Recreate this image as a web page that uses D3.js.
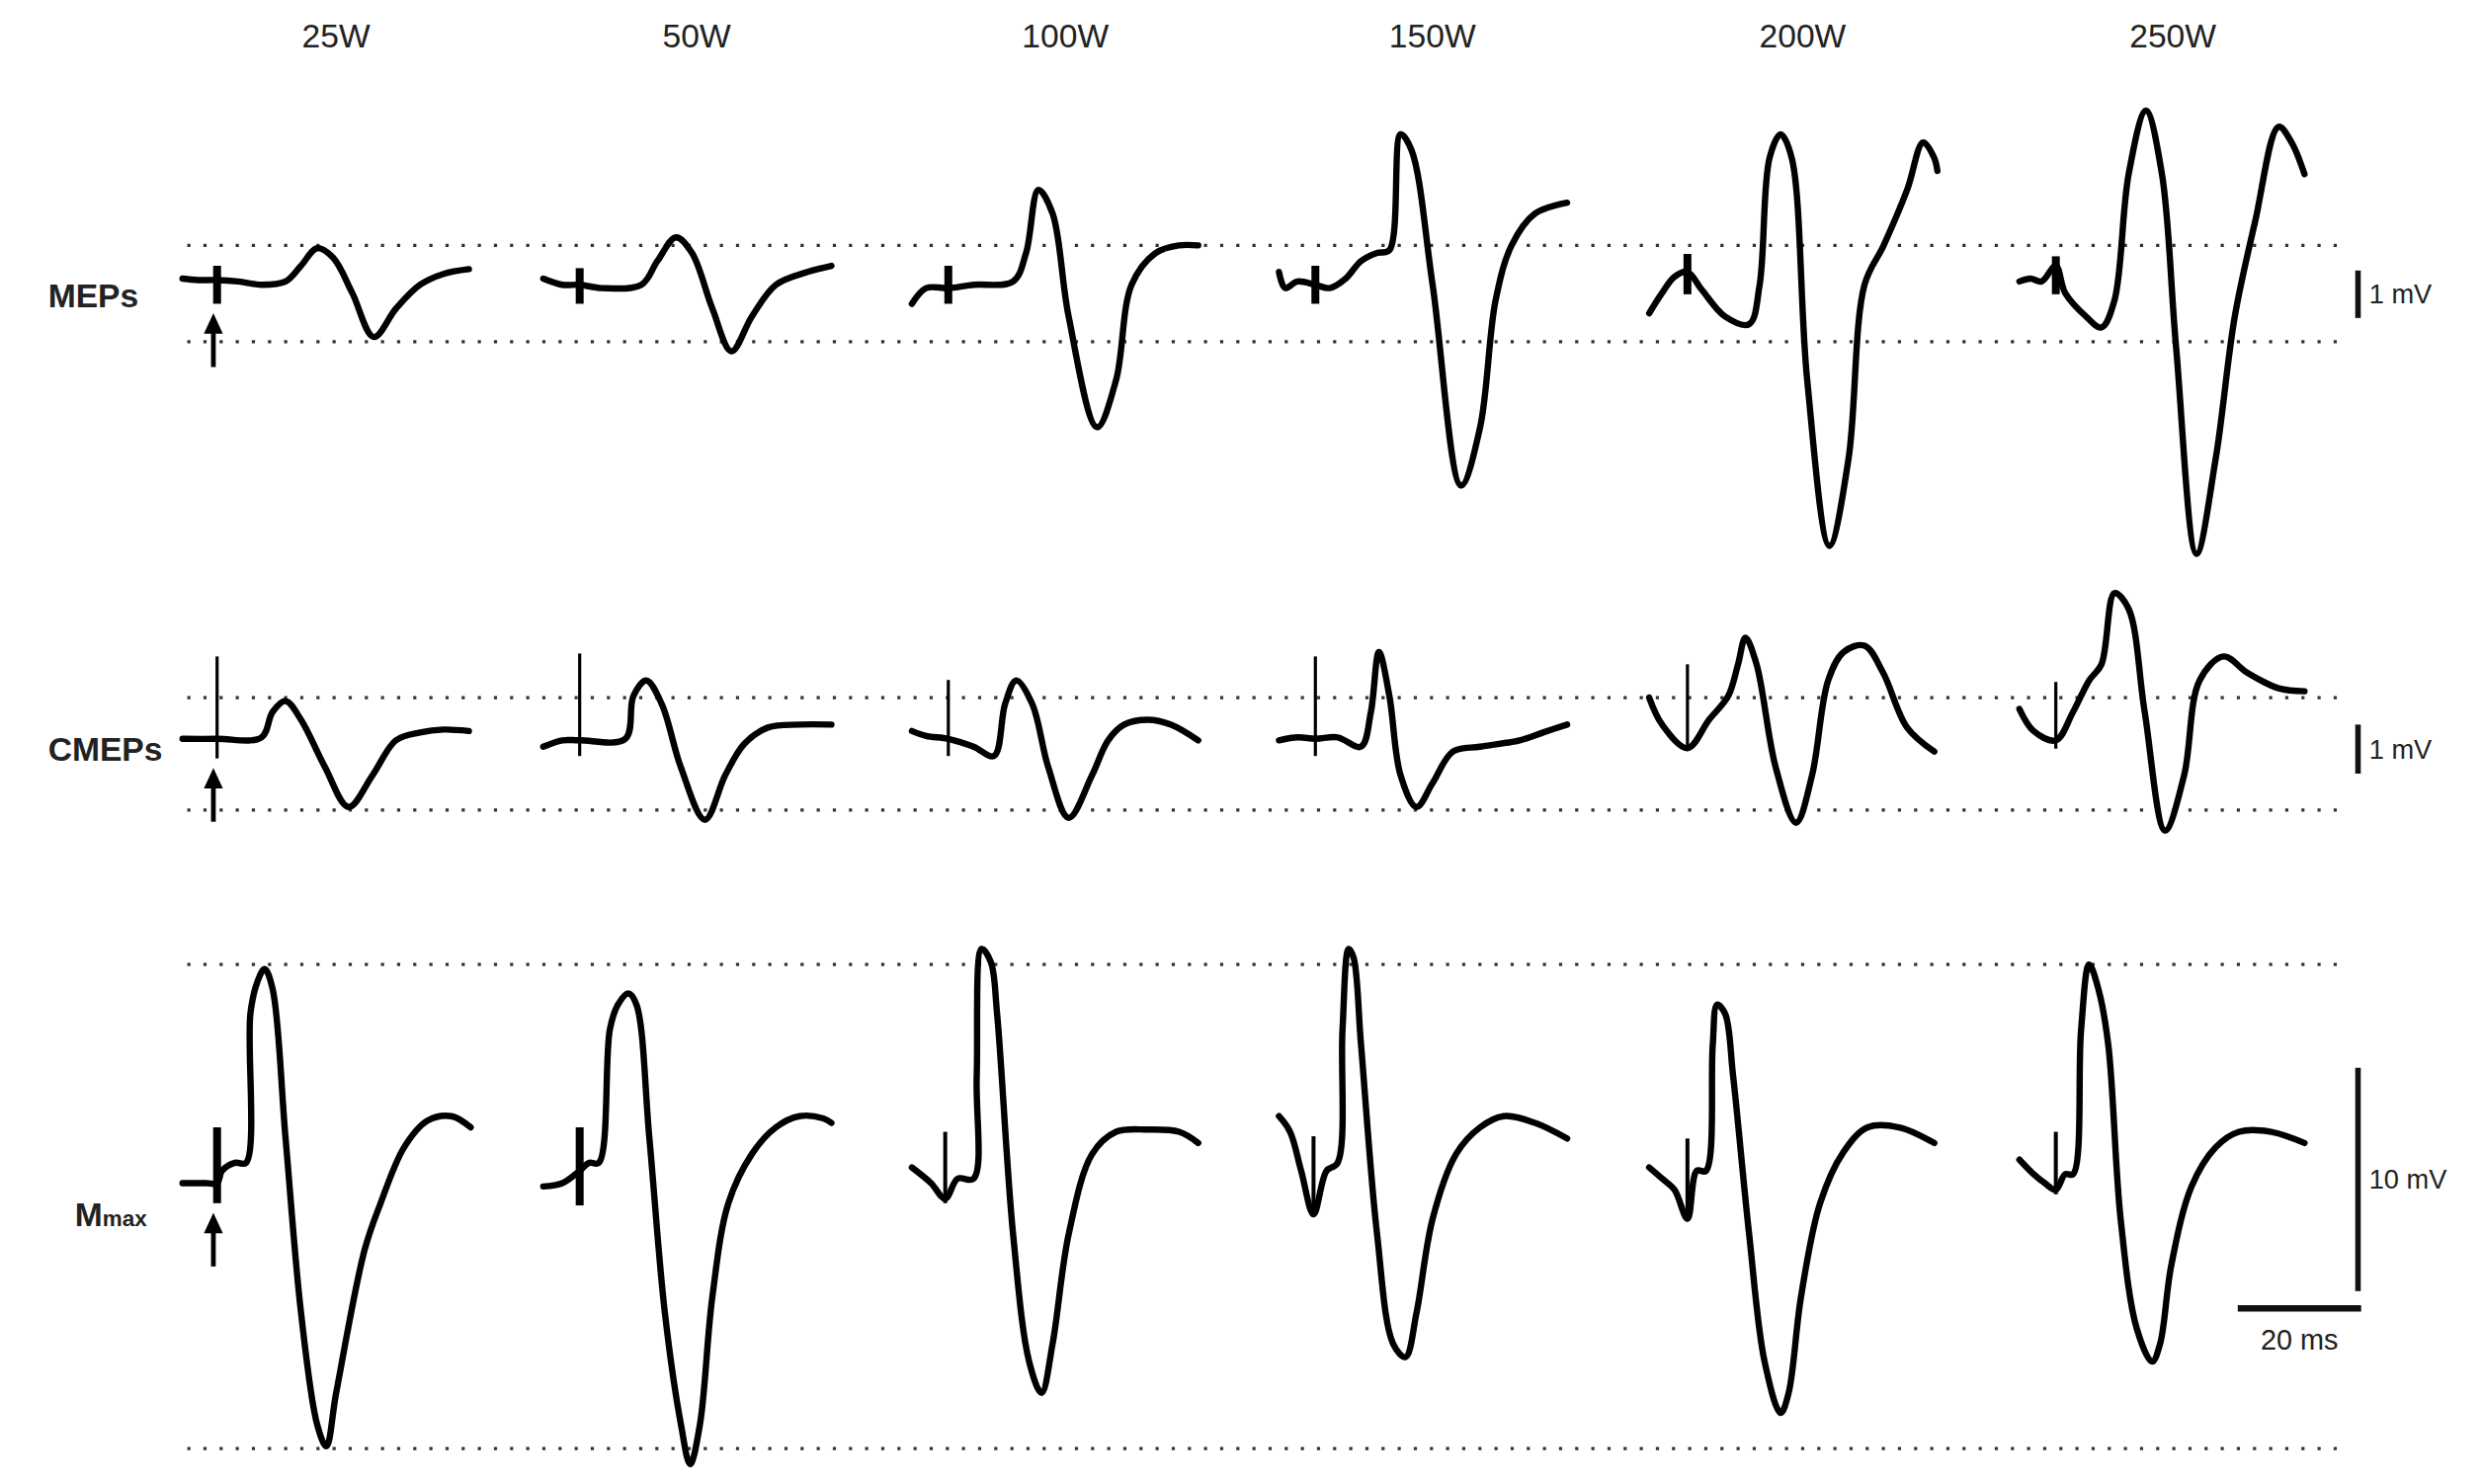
<!DOCTYPE html>
<html>
<head>
<meta charset="utf-8">
<script src="https://cdn.jsdelivr.net/npm/d3@7"></script>
<style>
  body { margin: 0; background: white; }
  text { font-family: "Liberation Sans", Arial, sans-serif; fill: #222; }
</style>
</head>
<body>
<script>
// Column titles and row labels
const powers = ["25W", "50W", "100W", "150W", "200W", "250W"];
const rowNames = ["MEPs", "CMEPs", "Mmax"];

// Traces: [time ms, amplitude mV], one array per panel
const mep25 = [[0,.13],[2.6,.1],[5.6,.1],[9,.07],[12.8,0],[16.7,.07],[19.2,.4],[21.8,.77],[24.4,.57],[27.5,-.17],[31,-1.1],[34.6,-.5],[38.5,0],[42.3,.23],[46.4,.33]];
const mep50 = [[0,.13],[3.1,0],[5.9,0],[9.5,-.07],[15.9,0],[18.5,.5],[21.5,1],[24.1,.67],[27.4,-.5],[30.5,-1.4],[33.8,-.67],[37.7,0],[42.8,.27],[46.7,.4]];
const mep100 = [[0,-.4],[2.3,-.07],[5.9,-.07],[10,.0],[16.4,.07],[18.5,.67],[20.5,2],[22.8,1.5],[25.4,-.67],[30,-3],[33.1,-2],[35.6,0],[39.5,.67],[43.3,.83],[46.4,.83]];
const mep150 = [[0,.27],[1,-.07],[3,.07],[5.9,0],[8.2,-.07],[10.8,.13],[13.3,.5],[15.9,.67],[17.9,.73],[19.7,3.17],[21.5,2.83],[24.9,0],[29.5,-4.23],[32.6,-3],[35.1,-.33],[37.7,.83],[41.5,1.5],[46.7,1.73]];
const mep200 = [[0,-.6],[2.1,-.17],[4.1,.17],[6.2,.27],[8.5,-.1],[12.3,-.67],[16.2,-.83],[17.9,0],[19.5,2.67],[21.3,3.17],[23.1,2.67],[25.6,-2],[29.2,-5.5],[32.3,-3.67],[34.9,0],[38,.83],[41.8,2],[44.4,3],[46.2,2.67],[46.7,2.4]];
const mep250 = [[0,.07],[1.8,.13],[3.6,.07],[5.9,.4],[7.4,-.17],[10.8,-.67],[13.3,-.9],[15.4,-.33],[17.7,2.33],[20.5,3.67],[23.1,2.33],[25.4,-1.33],[28.7,-5.67],[31.8,-3.67],[34.9,-.67],[38.2,1.33],[42,3.33],[44.1,3],[46.2,2.33]];

const cmep25 = [[0,0],[5.6,0],[12.8,.03],[14.6,.55],[16.7,.77],[19.2,.39],[23.1,-.58],[26.9,-1.39],[30.8,-.74],[34.6,-.03],[38.5,.13],[42.3,.19],[46.4,.16]];
const cmep50 = [[0,-.16],[3.1,-.03],[5.9,-.03],[13.3,0],[14.6,.87],[16.7,1.19],[19.2,.71],[22.3,-.58],[26.2,-1.65],[29.5,-.74],[32.6,-.1],[36.4,.23],[41.5,.29],[46.7,.29]];
const cmep100 = [[0,.16],[2.3,.06],[5.9,0],[10,-.16],[13.3,-.35],[15.1,.71],[16.9,1.19],[19.5,.71],[22.1,-.58],[25.4,-1.61],[29.2,-.74],[31.8,-.03],[34.4,.29],[38.2,.39],[42,.29],[46.4,-.03]];
const cmep150 = [[0,-.03],[3.1,.03],[5.9,0],[9.5,.03],[13.3,-.16],[14.9,.55],[16.2,1.77],[17.9,.87],[19.7,-.74],[22.3,-1.39],[24.9,-.9],[28.2,-.26],[32.6,-.16],[39,-.03],[42.8,.13],[46.7,.29]];
const cmep200 = [[0,.84],[2.1,.29],[6.2,-.19],[9.7,.39],[12.8,.87],[14.4,1.52],[15.6,2.06],[17.4,1.52],[20.5,-.58],[23.8,-1.71],[26.4,-.74],[29,1.19],[31.5,1.77],[34.9,1.9],[37.9,1.35],[41.8,.23],[46.2,-.26]];
const cmep250 = [[0,.61],[2.3,.16],[5.9,-.03],[8.7,.55],[11.3,1.19],[13.3,1.52],[15.4,2.97],[17.7,2.65],[20.3,.55],[23.6,-1.87],[26.7,-.74],[29.2,1.19],[33.1,1.68],[36.9,1.35],[42,1.03],[46.2,.97]];

const mmax25 = [[0,-.2],[3.8,-.2],[5.6,-.2],[6.4,.35],[8.5,.71],[10.3,.71],[11,7.4],[12.1,8.8],[13.3,9.4],[14.6,8.5],[16.7,1.8],[19.2,-6],[21.8,-11],[23.3,-12],[24.9,-9.6],[29.5,-3.2],[32.1,-1.1],[35.9,1.4],[39.7,2.6],[43.6,2.8],[46.7,2.3]];
const mmax50 = [[0,-.35],[3.1,-.2],[5.9,.35],[7.4,.71],[9,.71],[10.8,6.7],[12.1,7.8],[13.8,8.3],[15.1,7.8],[17.2,1.8],[19.7,-6],[22.3,-11],[23.8,-12.8],[25.4,-11],[27.4,-5.3],[30,-1.1],[33.8,1.1],[37.7,2.3],[41.5,2.8],[45.4,2.7],[46.7,2.5]];
const mmax100 = [[0,.5],[3.1,-.2],[5.4,-.9],[7.4,0],[10,0],[10.5,4.6],[11.3,10.3],[12.8,9.7],[13.8,7.4],[16.4,-2.5],[19,-8.2],[21,-9.6],[22.8,-7.4],[25.4,-2.5],[29.2,1.1],[33.1,2.1],[38.2,2.2],[43.3,2.1],[46.4,1.6]];
const mmax150 = [[0,2.8],[1.8,2.1],[3.6,.35],[5.6,-1.6],[7.7,.35],[9.5,.71],[10.3,6.7],[11.3,10.3],[12.1,9.9],[13.3,6],[15.9,-2.5],[18.5,-7.4],[20.5,-8],[22.3,-6],[24.9,-1.8],[28.7,1.1],[32.6,2.3],[36.4,2.8],[41.5,2.5],[46.7,1.8]];
const mmax200 = [[0,.5],[2.1,0],[4.1,-.5],[6.2,-1.8],[7.7,.35],[9.2,.35],[10.3,6],[11,7.8],[12.3,7.4],[13.6,4.6],[16.2,-2.5],[18.7,-8.2],[21.3,-10.5],[22.6,-9.6],[24.6,-5.3],[27.7,-1.1],[31.5,1.2],[35.4,2.3],[40.5,2.3],[46.2,1.6]];
const mmax250 = [[0,.85],[2.3,.2],[4.1,-.2],[5.9,-.5],[7.4,.2],[8.7,.2],[10,6.7],[11.3,9.6],[12.8,8.5],[14.4,6],[16.4,-1.8],[19,-6.7],[21.5,-8.2],[22.8,-7.4],[24.6,-3.9],[27.9,-.35],[31.8,1.4],[35.6,2.1],[40.8,2.1],[46.2,1.6]];

// Stimulus artifacts: [time ms, top mV, bottom mV]
const mepArtifacts = [[5.6,.4,-.4],[5.9,.35,-.4],[5.9,.4,-.4],[5.9,.4,-.4],[6.2,.65,-.2],[5.9,.6,-.2]];
const cmepArtifacts = [[5.6,1.68,-.4],[5.9,1.74,-.35],[5.9,1.2,-.35],[5.9,1.68,-.35],[6.2,1.52,-.2],[5.9,1.16,-.2]];
const mmaxArtifacts = [[5.6,2.3,-1.1],[5.9,2.3,-1.2],[5.4,2.1,-1.1],[5.6,1.9,-1.6],[6.2,1.8,-1.9],[5.9,2.1,-.7]];

// Reference levels (dotted lines) per row, mV
const mepLevels = [.83, -1.2];
const cmepLevels = [.84, -1.45];
const mmaxLevels = [9.6, -12.1];

const rows = [
  { name: "MEPs", traces: [mep25, mep50, mep100, mep150, mep200, mep250], art: mepArtifacts, artW: 5, levels: mepLevels, base: 180, k: 30, bar: 1, barLabel: "1 mV" },
  { name: "CMEPs", traces: [cmep25, cmep50, cmep100, cmep150, cmep200, cmep250], art: cmepArtifacts, artW: 2, levels: cmepLevels, base: 467, k: 31, bar: 1, barLabel: "1 mV" },
  { name: "Mmax", traces: [mmax25, mmax50, mmax100, mmax150, mmax200, mmax250], art: mmaxArtifacts, artW: [5, 5, 2.5, 2.5, 2.5, 2.5], levels: mmaxLevels, base: 745, k: 14.1, bar: 10, barLabel: "10 mV" }
];

const W = 1568, H = 938;
const svg = d3.select("body").append("svg")
  .attr("width", 2512).attr("height", 1502)
  .attr("viewBox", `0 0 ${W} ${H}`);

const colStart = [115, 343, 576, 808, 1042, 1276];
const pxPerMs = 3.9;

svg.selectAll(".title").data(powers).enter().append("text")
  .attr("x", (d, i) => colStart[i] + 97)
  .attr("y", 30)
  .attr("text-anchor", "middle")
  .attr("font-size", 21)
  .text(d => d);

const line = d3.line().curve(d3.curveCatmullRom.alpha(0.5));

rows.forEach((row, ri) => {
  const y = d3.scaleLinear().domain([0, 1]).range([row.base, row.base - row.k]);

  // dotted guide lines
  row.levels.forEach(l => {
    svg.append("line")
      .attr("x1", 118).attr("x2", 1482)
      .attr("y1", y(l)).attr("y2", y(l))
      .attr("stroke", "#333").attr("stroke-width", 2)
      .attr("stroke-dasharray", "2,8.2");
  });

  row.traces.forEach((tr, ci) => {
    const x = d3.scaleLinear().domain([0, 1]).range([colStart[ci], colStart[ci] + pxPerMs]);
    svg.append("path")
      .attr("d", line(tr.map(d => [x(d[0]), y(d[1])])))
      .attr("fill", "none").attr("stroke", "#000")
      .attr("stroke-width", 4).attr("stroke-linejoin", "round").attr("stroke-linecap", "round");
    const a = row.art[ci];
    svg.append("line")
      .attr("x1", x(a[0])).attr("x2", x(a[0]))
      .attr("y1", y(a[1])).attr("y2", y(a[2]))
      .attr("stroke", "#000")
      .attr("stroke-width", Array.isArray(row.artW) ? row.artW[ci] : row.artW);
  });

  // arrow under first stimulus
  const ax = colStart[0] + 5 * pxPerMs;
  const ay = y(row.art[0][2]) + 6;
  svg.append("line").attr("x1", ax).attr("x2", ax).attr("y1", ay + 8).attr("y2", ay + 34)
    .attr("stroke", "#000").attr("stroke-width", 3);
  svg.append("path").attr("d", `M${ax - 6},${ay + 13} L${ax},${ay} L${ax + 6},${ay + 13} Z`).attr("fill", "#000");

  // row label
  const lab = svg.append("text")
    .attr("x", 30).attr("y", row.base + 14)
    .attr("font-size", 21).attr("font-weight", "bold");
  if (row.name === "Mmax") {
    lab.attr("x", 47).attr("y", row.base + 30);
    lab.append("tspan").text("M");
    lab.append("tspan").attr("font-size", 14).text("max");
  } else {
    lab.text(row.name);
  }

  // vertical scale bar
  const barTop = ri === 2 ? 675 : row.base - 9;
  svg.append("line")
    .attr("x1", 1490).attr("x2", 1490)
    .attr("y1", barTop).attr("y2", barTop + row.bar * row.k)
    .attr("stroke", "#111").attr("stroke-width", 3.5);
  svg.append("text")
    .attr("x", 1497).attr("y", barTop + row.bar * row.k / 2 + 6)
    .attr("font-size", 17)
    .text(row.barLabel);
});

// 20 ms time bar
svg.append("line")
  .attr("x1", 1492 - 20 * pxPerMs).attr("x2", 1492)
  .attr("y1", 827).attr("y2", 827)
  .attr("stroke", "#111").attr("stroke-width", 4);
svg.append("text")
  .attr("x", 1453).attr("y", 853)
  .attr("text-anchor", "middle").attr("font-size", 18)
  .text("20 ms");
</script>
</body>
</html>
